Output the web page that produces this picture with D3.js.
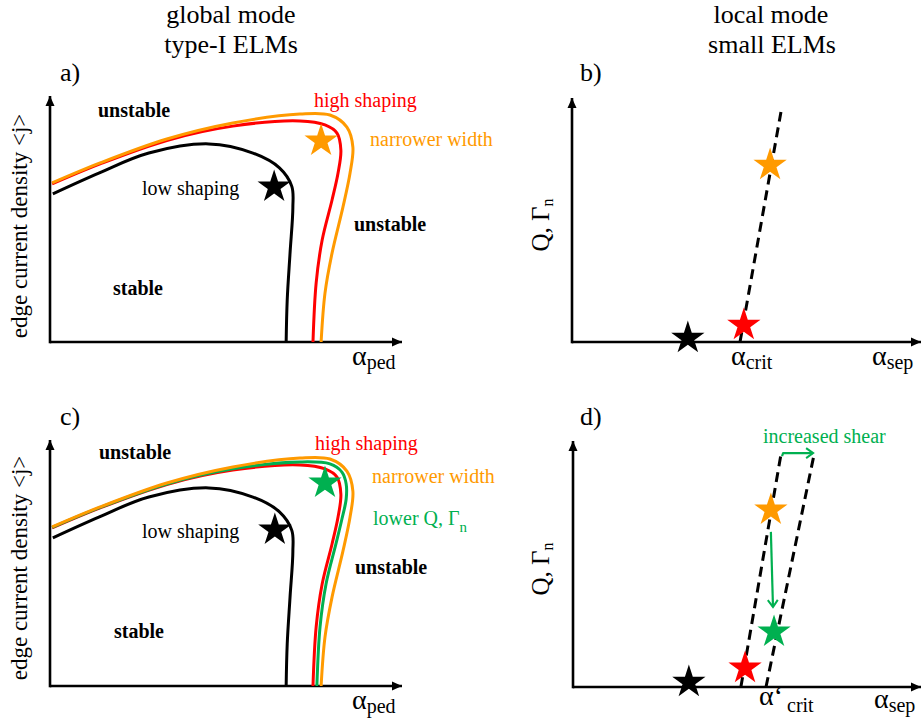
<!DOCTYPE html>
<html>
<head>
<meta charset="utf-8">
<script src="https://cdn.jsdelivr.net/npm/d3@7"></script>
<style>
  body { margin: 0; background: #fff; }
  svg text { font-family: "Liberation Serif", "Times New Roman", serif; }
</style>
</head>
<body>
<svg id="fig" width="922" height="723"></svg>
<script>
// ---- Peeling-ballooning stability boundaries, (alpha_ped, <j>) on a 0..10 schematic scale ----
const lowShapingBoundary = [[0.08,6.00],[1.40,6.85],[2.80,7.65],[4.50,8.02],[5.75,7.65],[6.50,7.05],[6.85,6.30],[6.88,5.45],[6.80,3.60],[6.72,1.70],[6.69,0]];
const highShapingBoundary = [[0.06,6.40],[1.42,7.21],[3.31,8.16],[5.18,8.74],[7.08,8.95],[7.79,8.79],[8.13,8.46],[8.24,7.77],[8.16,6.84],[7.99,5.75],[7.71,4.13],[7.54,2.39],[7.45,0]];
const narrowerWidthBoundary = [[0.06,6.44],[1.42,7.25],[3.31,8.22],[5.18,8.87],[7.08,9.23],[7.93,9.19],[8.41,8.70],[8.58,7.89],[8.50,6.84],[8.30,5.47],[7.99,3.60],[7.79,1.98],[7.68,0]];
const lowerTransportBoundary = [[0.06,6.42],[1.42,7.23],[3.31,8.18],[5.18,8.79],[7.08,9.07],[7.93,8.99],[8.27,8.66],[8.39,8.18],[8.39,7.57],[8.27,6.76],[8.10,5.75],[7.82,4.13],[7.65,2.39],[7.56,0]];

// Operating points on the global-mode diagrams
const globalPointsA = [ {x:6.35, y:6.28, c:"black"}, {x:7.68, y:8.14, c:"orange"} ];
const globalPointsC = [ {x:6.37, y:6.32, c:"black"}, {x:7.79, y:8.22, c:"green"} ];

// ---- Local-mode transport onset, (alpha_sep, Q/Gamma_n) on a 0..10 schematic scale ----
const critLine = [[4.80,0],[5.97,9.39]];
const critLineSheared = [[5.53,0],[6.91,9.43]];
const critLineD = [[4.81,0],[5.96,9.43]];
const localPointsB = [ {x:3.31, y:0.16, c:"black"}, {x:4.91, y:0.69, c:"red"}, {x:5.66, y:7.22, c:"orange"} ];
const localPointsD = [ {x:3.32, y:0.20, c:"black"}, {x:4.93, y:0.77, c:"red"}, {x:5.67, y:7.17, c:"orange"}, {x:5.76, y:2.23, c:"green"} ];
const shearShift = [[5.99,9.35],[6.02,9.47],[6.88,9.47]];
const transportDrop = [[5.67,6.28],[5.73,3.24]];

const palette = { black:"#000000", red:"#ff0000", orange:"#ff9a00", green:"#00b050" };

const svg = d3.select("#fig");

// Pixel frame of each pair of axes
const frames = {
  a: { x0: 50,  x1: 403, y0: 342, y1: 95 },
  b: { x0: 572, x1: 922, y0: 342, y1: 97 },
  c: { x0: 50,  x1: 403, y0: 686, y1: 439 },
  d: { x0: 573, x1: 922, y0: 687, y1: 440 }
};
const scalesFor = f => ({
  x: d3.scaleLinear().domain([0, 10]).range([f.x0, f.x1]),
  y: d3.scaleLinear().domain([0, 10]).range([f.y0, f.y1])
});
const S = {};
Object.keys(frames).forEach(k => S[k] = scalesFor(frames[k]));

// Arrow heads
const defs = svg.append("defs");
defs.append("marker")
  .attr("id", "axisHead").attr("viewBox", "-10 -5 10 10")
  .attr("refX", 0).attr("refY", 0)
  .attr("markerWidth", 10).attr("markerHeight", 10)
  .attr("markerUnits", "userSpaceOnUse").attr("orient", "auto")
  .append("path").attr("d", "M-10,-4.5L0,0L-10,4.5Z").attr("fill", "#000");
defs.append("marker")
  .attr("id", "greenHead").attr("viewBox", "-10 -6 12 12")
  .attr("refX", 0).attr("refY", 0)
  .attr("markerWidth", 12).attr("markerHeight", 12)
  .attr("markerUnits", "userSpaceOnUse").attr("orient", "auto")
  .append("path").attr("d", "M-7,-5L0,0L-7,5")
  .attr("fill", "none").attr("stroke", palette.green).attr("stroke-width", 2);

// Axes without ticks
function drawAxes(k) {
  const {x, y} = S[k];
  const g = svg.append("g").attr("class", "axes-" + k);
  g.append("line").attr("x1", x(0)).attr("y1", y(0)).attr("x2", x(10) - 1).attr("y2", y(0))
    .attr("stroke", "#000").attr("stroke-width", 2.6).attr("marker-end", "url(#axisHead)");
  g.append("line").attr("x1", x(0)).attr("y1", y(0) + 1.3).attr("x2", x(0)).attr("y2", y(10) + 1)
    .attr("stroke", "#000").attr("stroke-width", 2.6).attr("marker-end", "url(#axisHead)");
}
Object.keys(frames).forEach(drawAxes);

const star = d3.symbol().type(d3.symbolStar).size(17.5 * 17.5 / 0.8908130915);

function drawCurve(k, pts, color, width) {
  const {x, y} = S[k];
  svg.append("path")
    .attr("d", d3.line().x(d => x(d[0])).y(d => y(d[1])).curve(d3.curveCatmullRom.alpha(0.5))(pts))
    .attr("fill", "none").attr("stroke", color).attr("stroke-width", width || 3)
    .attr("stroke-linejoin", "round");
}
function drawDashed(k, pts) {
  const {x, y} = S[k];
  svg.append("path")
    .attr("d", d3.line().x(d => x(d[0])).y(d => y(d[1]))(pts))
    .attr("fill", "none").attr("stroke", "#000").attr("stroke-width", 3)
    .attr("stroke-dasharray", "10,6");
}
function drawArrow(k, pts) {
  const {x, y} = S[k];
  svg.append("path")
    .attr("d", d3.line().x(d => x(d[0])).y(d => y(d[1]))(pts))
    .attr("fill", "none").attr("stroke", palette.green).attr("stroke-width", 2.2)
    .attr("stroke-linejoin", "round").attr("marker-end", "url(#greenHead)");
}
function drawStars(k, pts) {
  const {x, y} = S[k];
  svg.append("g").selectAll("path").data(pts).join("path")
    .attr("d", star)
    .attr("transform", d => `translate(${x(d.x)},${y(d.y)})`)
    .attr("fill", d => palette[d.c]);
}

// Panel a
drawCurve("a", lowShapingBoundary, palette.black);
drawCurve("a", highShapingBoundary, palette.red);
drawCurve("a", narrowerWidthBoundary, palette.orange);
drawStars("a", globalPointsA);

// Panel c
drawCurve("c", lowShapingBoundary, palette.black);
drawCurve("c", highShapingBoundary, palette.red);
drawCurve("c", lowerTransportBoundary, palette.green);
drawCurve("c", narrowerWidthBoundary, palette.orange);
drawStars("c", globalPointsC);

// Panel b
drawDashed("b", critLine);
drawStars("b", localPointsB);

// Panel d
drawDashed("d", critLineD);
drawDashed("d", critLineSheared);
drawArrow("d", shearShift);
drawArrow("d", transportDrop);
drawStars("d", localPointsD);

// ---- Text ----
function text(x, y, str, opts = {}) {
  return svg.append("text").attr("x", x).attr("y", y)
    .attr("font-size", opts.size || 20)
    .attr("font-weight", opts.bold ? "bold" : "normal")
    .attr("fill", opts.color || "#000")
    .attr("text-anchor", opts.anchor || "start")
    .text(str);
}

// Column headings
text(231, 23, "global mode", {size: 26, anchor: "middle"});
text(231, 53, "type-I ELMs", {size: 26, anchor: "middle"});
text(771, 23, "local mode", {size: 26, anchor: "middle"});
text(772, 53, "small ELMs", {size: 26, anchor: "middle"});

// Panel letters
text(60, 81, "a)", {size: 26});
text(580, 81, "b)", {size: 26});
text(60, 425, "c)", {size: 26});
text(580, 425, "d)", {size: 26});

// Region and curve labels, panel a
text(98, 117, "unstable", {bold: true});
text(314, 107, "high shaping", {color: palette.red});
text(370, 146, "narrower width", {color: palette.orange});
text(142, 195, "low shaping");
text(354, 231, "unstable", {bold: true});
text(113, 295, "stable", {bold: true});

// Panel c
text(99, 459, "unstable", {bold: true});
text(315, 450, "high shaping", {color: palette.red});
text(372, 483, "narrower width", {color: palette.orange});
const lq = text(373, 525, "lower Q, Γ", {color: palette.green});
lq.append("tspan").attr("font-size", 15).attr("dy", 7).text("n");
text(142, 538, "low shaping");
text(355, 574, "unstable", {bold: true});
text(114, 638, "stable", {bold: true});

// Panel d annotation
text(763, 443, "increased shear", {color: palette.green});

// Y-axis titles
[["a", 226], ["c", 568]].forEach(([k, cy]) => {
  svg.append("text").attr("transform", `translate(27,${cy}) rotate(-90)`)
    .attr("text-anchor", "middle").attr("font-size", 23).text("edge current density <j>");
});
[["b", 225], ["d", 569]].forEach(([k, cy]) => {
  const t = svg.append("text").attr("transform", `translate(549,${cy}) rotate(-90)`)
    .attr("text-anchor", "middle").attr("font-size", 25).text("Q, Γ");
  t.append("tspan").attr("font-size", 16).attr("dy", 4).text("n");
});

// X-axis titles with subscripts
function alphaLabel(x, y, sub, subDy, prime) {
  const t = svg.append("text").attr("x", x).attr("y", y).attr("font-size", 28).text(prime ? "α‘" : "α");
  t.append("tspan").attr("font-size", 20).attr("dx", prime ? 4 : 0).attr("dy", subDy).text(sub);
}
alphaLabel(352, 365, "ped", 4);
alphaLabel(731, 365, "crit", 4);
alphaLabel(872, 365, "sep", 4);
alphaLabel(352, 709, "ped", 4);
alphaLabel(759, 705, "crit", 7, true);
alphaLabel(874, 708, "sep", 4);
</script>
</body>
</html>
